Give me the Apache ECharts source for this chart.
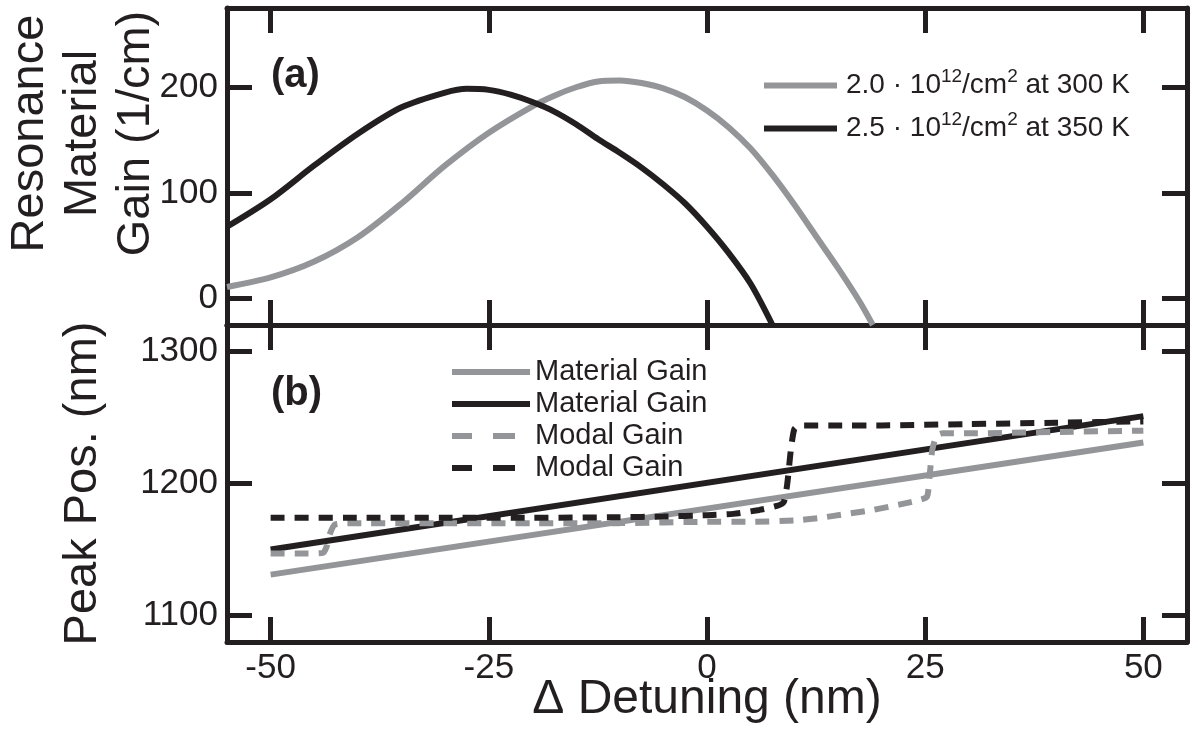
<!DOCTYPE html>
<html><head><meta charset="utf-8">
<script src="https://cdn.jsdelivr.net/npm/echarts@6/dist/echarts.min.js"></script>
<style>html,body{margin:0;padding:0;background:#fff}#c{width:1198px;height:733px}</style>
</head><body><div id="c"></div>
<script>
// ---- data ----
const xTicks = [-50, -25, 0, 25, 50];
const gainTicks = [0, 100, 200];
const peakTicks = [1100, 1200, 1300];

// panel (a): resonance material gain (1/cm) vs detuning (nm)
const gainX300 = [-55, -50, -45, -40, -35, -30, -25, -20, -17.5, -15, -12.5, -10, -7.5, -5, -2.5, 0, 2.5, 5, 7.5, 10, 12.5, 15, 17.5, 19.0];
const gain300  = [11, 20, 35, 58, 90, 126, 157, 182, 192, 200, 205.5, 206.5, 204, 199, 190.5, 178, 162, 142, 117, 89, 59, 29, -3, -25];
const gainX350 = [-55, -50, -45, -40, -35, -30, -27.5, -25, -22.5, -20, -17.5, -15, -12.5, -10, -7.5, -5, -2.5, 0, 2.5, 5, 7.5];
const gain350  = [68, 94, 126, 156, 181, 195, 198.5, 197.5, 193, 186, 177, 165, 151, 138, 124, 108, 90, 68, 43, 14, -25];

// panel (b): peak position (nm) vs detuning (nm)
const matX = [-50, 50];
const mat300 = [1131, 1231];
const mat350 = [1150, 1251];
const modX350 = [-50, -40, -30, -20, -10, -5, 0, 3, 6, 8, 8.8, 9.2, 9.6, 10, 10.6, 15, 20, 30, 40, 50];
const mod350  = [1174, 1174, 1174, 1174, 1174.5, 1175, 1176, 1177, 1180, 1183, 1186, 1200, 1225, 1241, 1244, 1244, 1244, 1245, 1246, 1247];
const modX300 = [-50, -46, -44, -43.6, -43.2, -42.6, -40, -30, -20, -10, 0, 5, 10, 13, 16, 19, 22, 24, 25.2, 25.5, 25.8, 26.3, 27, 30, 40, 50];
const mod300  = [1147, 1147, 1147.5, 1152, 1162, 1169, 1170, 1170, 1170, 1170, 1171, 1171, 1172, 1174, 1177, 1180, 1184, 1187, 1190, 1205, 1225, 1236, 1238, 1238, 1239, 1240];

const names = {
  a300: '2.0 · 10{sup|12}/cm{sup|2} at 300 K',
  a350: '2.5 · 10{sup|12}/cm{sup|2} at 350 K',
  m300: 'Material Gain (300)', m350: 'Material Gain (350)',
  d300: 'Modal Gain (300)', d350: 'Modal Gain (350)'
};

const BLACK = '#231f20', GRAY = '#939598';
const FONT = 'Liberation Sans, Arial, sans-serif';
const DASH_ICON = 'path://M0,0h20v6h-20z M41,0h22v6h-22z M78,0L78,6';
const pairs = (xs, ys) => xs.map((x, i) => [x, ys[i]]);

function xAx(grid, pos, labels, name) {
  return {
    type: 'value', gridIndex: grid, position: pos, min: -55, max: 55,
    axisLine: { show: true, onZero: false, lineStyle: { color: BLACK, width: 5 } },
    axisTick: { show: true, inside: true, length: 25, customValues: xTicks, lineStyle: { color: BLACK, width: 5 } },
    axisLabel: { show: labels, customValues: xTicks, margin: 9, fontSize: 35, color: BLACK, fontFamily: FONT, formatter: v => String(v) },
    splitLine: { show: false },
    name: name || '', nameLocation: 'middle', nameGap: 34, nameMoveOverlap: false,
    nameTextStyle: { fontSize: 48, color: BLACK, fontFamily: FONT }
  };
}
function yAx(grid, pos, min, max, ticks, labels, name, gap, pad) {
  return {
    type: 'value', gridIndex: grid, position: pos, min: min, max: max,
    axisLine: { show: true, onZero: false, lineStyle: { color: BLACK, width: 5 } },
    axisTick: { show: true, inside: true, length: 25, customValues: ticks, lineStyle: { color: BLACK, width: 5 } },
    axisLabel: { show: labels, customValues: ticks, margin: 9, fontSize: 35, color: BLACK, fontFamily: FONT, formatter: v => String(v) },
    splitLine: { show: false },
    name: name || '', nameLocation: 'middle', nameRotate: 90, nameGap: gap || 0, nameMoveOverlap: false,
    nameTextStyle: { fontSize: 47, lineHeight: 53, color: BLACK, fontFamily: FONT, padding: pad || 0 }
  };
}

const chart = echarts.init(document.getElementById('c'), null, { renderer: 'canvas' });
chart.setOption({
  animation: false,
  backgroundColor: '#fff',
  grid: [
    { left: 227, right: 11, top: 8, height: 317, containLabel: false, outerBoundsMode: 'none' },
    { left: 227, right: 11, top: 325, height: 317, containLabel: false, outerBoundsMode: 'none' }
  ],
  title: [
    { text: '(a)', left: 266, top: 51, textStyle: { fontSize: 40, fontWeight: 'bold', color: BLACK, fontFamily: FONT } },
    { text: '(b)', left: 266, top: 369, textStyle: { fontSize: 40, fontWeight: 'bold', color: BLACK, fontFamily: FONT } }
  ],
  legend: [
    {
      data: [{ name: names.a300, icon: 'rect' }, { name: names.a350, icon: 'rect' }],
      orient: 'vertical', left: 759, top: 62,
      itemWidth: 73, itemHeight: 6, itemGap: 6, selectedMode: false,
      textStyle: { fontSize: 28, color: BLACK, lineHeight: 30, fontFamily: FONT, padding: [0, 0, 0, 4],
        rich: { sup: { fontSize: 19, lineHeight: 10, padding: [0, 0, 18, 0], color: BLACK, fontFamily: FONT } } }
    },
    {
      data: [
        { name: names.m300, icon: 'rect' }, { name: names.m350, icon: 'rect' },
        { name: names.d300, icon: DASH_ICON }, { name: names.d350, icon: DASH_ICON }
      ],
      orient: 'vertical', left: 447, top: 351,
      itemWidth: 78, itemHeight: 6, itemGap: 0, selectedMode: false,
      formatter: n => n.replace(/ \(\d+\)$/, ''),
      textStyle: { fontSize: 29, color: BLACK, lineHeight: 32, fontFamily: FONT, padding: [0, 0, 0, 0] }
    }
  ],
  xAxis: [xAx(0, 'bottom', false), xAx(0, 'top', false), xAx(1, 'bottom', true, 'Δ Detuning (nm)'), xAx(1, 'top', false)],
  yAxis: [
    yAx(0, 'left', -25, 275, gainTicks, true, 'Resonance\nMaterial\nGain (1/cm)', 64, [0, 0, 0, 66]),
    yAx(0, 'right', -25, 275, gainTicks, false),
    yAx(1, 'left', 1080, 1320, peakTicks, true, 'Peak Pos. (nm)', 117),
    yAx(1, 'right', 1080, 1320, peakTicks, false)
  ],
  series: [
    { name: names.a300, type: 'line', xAxisIndex: 0, yAxisIndex: 0, data: pairs(gainX300, gain300), smooth: 0.3, symbol: 'none', clip: true, lineStyle: { color: GRAY, width: 6 }, itemStyle: { color: GRAY } },
    { name: names.a350, type: 'line', xAxisIndex: 0, yAxisIndex: 0, data: pairs(gainX350, gain350), smooth: 0.3, symbol: 'none', clip: true, lineStyle: { color: BLACK, width: 6 }, itemStyle: { color: BLACK } },
    { name: names.m300, type: 'line', xAxisIndex: 2, yAxisIndex: 2, data: pairs(matX, mat300), symbol: 'none', lineStyle: { color: GRAY, width: 6 }, itemStyle: { color: GRAY } },
    { name: names.m350, type: 'line', xAxisIndex: 2, yAxisIndex: 2, data: pairs(matX, mat350), symbol: 'none', lineStyle: { color: BLACK, width: 6 }, itemStyle: { color: BLACK } },
    { name: names.d300, type: 'line', xAxisIndex: 2, yAxisIndex: 2, data: pairs(modX300, mod300), smooth: 0.2, symbol: 'none', lineStyle: { color: GRAY, width: 6, type: [14, 10] }, itemStyle: { color: GRAY } },
    { name: names.d350, type: 'line', xAxisIndex: 2, yAxisIndex: 2, data: pairs(modX350, mod350), smooth: 0.2, symbol: 'none', lineStyle: { color: BLACK, width: 6, type: [14, 10] }, itemStyle: { color: BLACK } }
  ]
});
</script></body></html>
